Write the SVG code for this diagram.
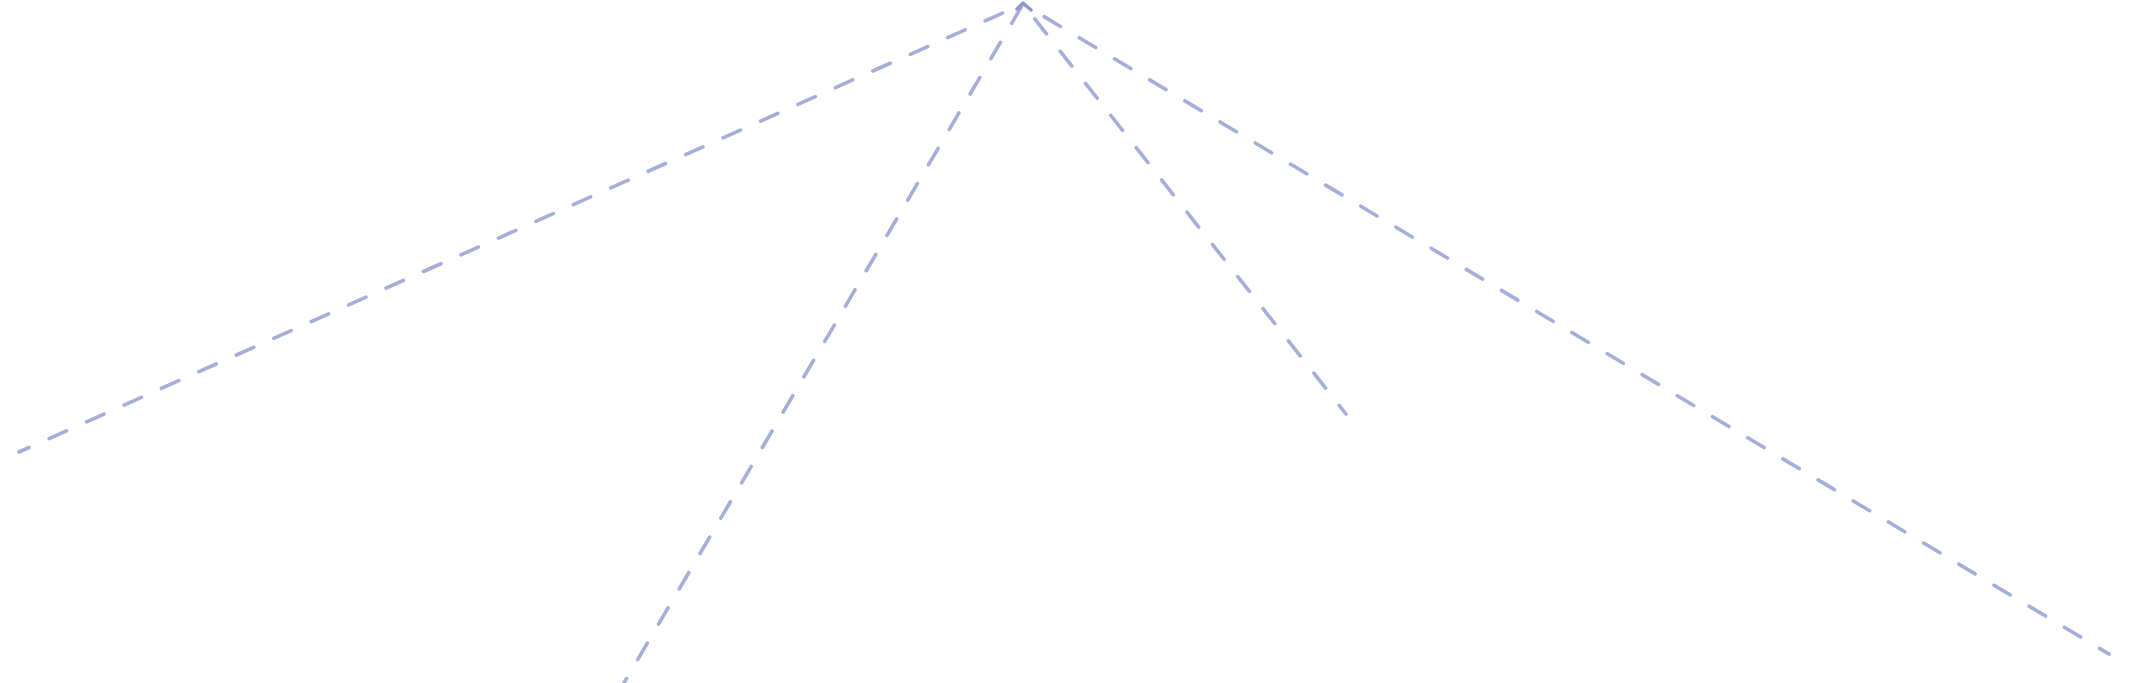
<svg xmlns="http://www.w3.org/2000/svg" width="2132" height="683" viewBox="0 0 2132 683">
  <style>
    .edge { fill: none; stroke: #a4aed9; stroke-width: 3.6; stroke-linecap: round; stroke-dasharray: 19 22; stroke-dashoffset: 8; }
    .head { fill: none; stroke: #8e99d0; stroke-width: 3.5; stroke-linecap: round; stroke-linejoin: round; }
  </style>
  <rect width="2132" height="683" fill="#ffffff"/>
  <g id="connectors">
    <path class="edge" d="M19,452 L1023,4"/>
    <path class="edge" d="M621,688 L1023,4"/>
    <path class="edge" d="M1346,414 L1023,4"/>
    <path class="edge" d="M2109,654 L1023,4"/>
    <path class="head" d="M1017,9 L1023,3 L1031,10"/>
  </g>
</svg>
